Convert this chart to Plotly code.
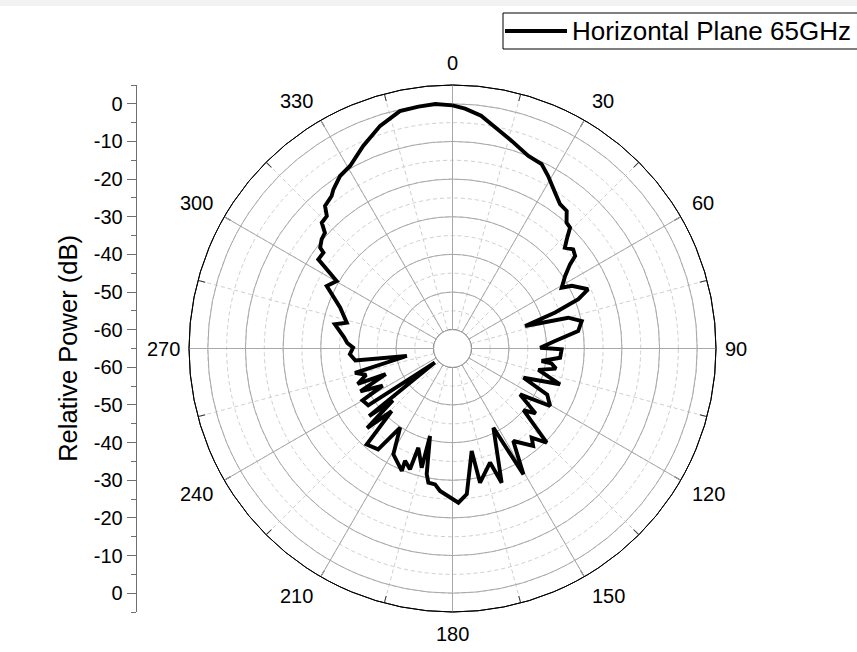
import math
import plotly.graph_objects as go

# ---------------- data ----------------
SERIES_NAME = "Horizontal Plane 65GHz"
ANGLES_DEG = [
    0, 3, 7, 11, 16, 21.5, 25.8, 29, 33.3, 36.7, 39.7, 42.2, 44.2, 46.3, 48.1, 50.6, 53,
    54.4, 57.2, 60.9, 62.3, 66.4, 68.6, 70.7, 72.8, 75.1, 78, 82.1, 85.8, 89.5, 90.4, 94.9,
    98, 98.6, 101, 104, 108.4, 112.4, 116, 120.5, 124.2, 128, 131, 135, 138.4, 140.4, 146.7,
    150.6, 152.7, 159.9, 161.8, 168.4, 169.4, 174.4, 177.8, 185, 187.3, 190.2, 191.6, 194.4,
    194.5, 199, 199.4, 202.9, 202.5, 209.2, 213.5, 216.4, 221.8, 224.2, 227, 229, 231,
    231.5, 236, 240, 242, 245, 249, 249.5, 253, 256, 260.7, 263, 266.8, 270.5, 273, 276,
    281.6, 283.7, 290.1, 296.4, 300.2, 303.6, 306.6, 307.3, 309.9, 312.2, 313.9, 316.5,
    318.2, 321.6, 323.2, 326.9, 330.7, 336.2, 342, 347.5, 352, 356, 360,
]
POWER_DB = [
    -0.4, -1.2, -2.7, -5.2, -7.7, -10.0, -10.6, -12.6, -15.4, -17.2, -17.5, -19.9, -20.2,
    -23.0, -24.9, -23.5, -24.2, -26.6, -29.4, -31.8, -29.2, -25.7, -29.1, -36.1, -44.8,
    -33.2, -29.9, -31.3, -37.7, -41.7, -36.0, -36.3, -41.1, -38.4, -37.0, -41.5, -34.9,
    -44.6, -37.0, -34.9, -43.3, -37.0, -40.0, -29.6, -33.3, -31.4, -35.6, -26.6, -41.3,
    -27.0, -33.1, -28.6, -37.3, -26.1, -24.0, -27.0, -28.6, -28.8, -30.9, -41.0, -32.3,
    -37.1, -31.0, -32.6, -29.8, -32.8, -39.8, -31.7, -30.8, -41.8, -34.0, -44.0, -36.5,
    -59.0, -38.0, -37.4, -44.0, -38.0, -46.0, -38.1, -41.0, -38.3, -52.7, -39.0, -37.7,
    -38.6, -37.0, -36.0, -33.1, -36.1, -33.2, -27.7, -29.4, -22.2, -22.3, -20.8, -19.7,
    -19.25, -16.8, -16.5, -14.2, -13.3, -12.2, -10.3, -9.4, -6.2, -2.8, -0.4, -0.1, 0.1,
    -0.4,
]
RADIAL_TICKS = [0, -10, -20, -30, -40, -50, -60]
RADIAL_MIN, RADIAL_MAX, RADIAL_CENTER = -60, 5, -65
ANGULAR_TICKS = [0, 30, 60, 90, 120, 150, 180, 210, 240, 270, 300, 330]

# ---------------- layout geometry ----------------
W, H = 857, 652
FONT = "Liberation Sans, Arial, sans-serif"
cx_px, cy_px, R_px = 452.5, 348.5, 263.5
dom_x = [(cx_px - R_px) / W, (cx_px + R_px) / W]
dom_y = [1 - (cy_px + R_px) / H, 1 - (cy_px - R_px) / H]
hole = (RADIAL_MIN - RADIAL_CENTER) / (RADIAL_MAX - RADIAL_CENTER)
span = RADIAL_MAX - RADIAL_CENTER
GRID_SOLID = "#a8a8a8"
GRID_DASH = "#cfcfcf"


def px(x):
    return x / W


def py(y):
    return 1 - y / H


fig = go.Figure()
# invisible helpers so that the background polar grid and the left scale get drawn
fig.add_trace(go.Scatterpolar(r=[RADIAL_MIN], theta=[0], mode="markers", subplot="polar",
                              marker=dict(opacity=0), showlegend=False, hoverinfo="skip"))
fig.add_trace(go.Scatter(x=[0.5], y=[0], mode="markers", marker=dict(opacity=0),
                         showlegend=False, hoverinfo="skip"))
fig.add_trace(go.Scatterpolar(
    r=POWER_DB, theta=ANGLES_DEG, mode="lines", name=SERIES_NAME,
    line=dict(color="black", width=3.9), subplot="polar2", showlegend=False,
))

radial_common = dict(range=[RADIAL_MIN, RADIAL_MAX], showticklabels=False, ticks="",
                     showline=False, tick0=0)
ang_common = dict(rotation=90, direction="clockwise")

fig.update_layout(
    width=W, height=H, margin=dict(l=0, r=0, t=0, b=0),
    paper_bgcolor="white", plot_bgcolor="rgba(0,0,0,0)",
    font=dict(family=FONT, color="black", size=20),
    polar=dict(
        domain=dict(x=dom_x, y=dom_y), hole=hole, bgcolor="white",
        radialaxis=dict(**radial_common, dtick=5, gridcolor=GRID_DASH, griddash="4px,3px",
                        gridwidth=1),
        angularaxis=dict(**ang_common, dtick=15, gridcolor=GRID_DASH, griddash="4px,3px",
                         showticklabels=False, ticks="inside", ticklen=7,
                         tickcolor="#333", showline=True, linecolor="black", linewidth=1),
    ),
    polar2=dict(
        domain=dict(x=dom_x, y=dom_y), hole=hole, bgcolor="rgba(0,0,0,0)",
        radialaxis=dict(**radial_common, dtick=10, gridcolor=GRID_SOLID, gridwidth=1),
        angularaxis=dict(**ang_common, tickmode="array", tickvals=ANGULAR_TICKS,
                         showticklabels=False, gridcolor=GRID_SOLID, gridwidth=1,
                         ticks="", showline=False),
    ),
)

# outer frame circle and inner hole circle
fig.add_shape(type="circle", xref="paper", yref="paper",
              x0=px(cx_px - R_px), x1=px(cx_px + R_px),
              y0=py(cy_px + R_px), y1=py(cy_px - R_px),
              line=dict(color="black", width=1), layer="above")
r_hole = R_px * hole
fig.add_shape(type="circle", xref="paper", yref="paper",
              x0=px(cx_px - r_hole), x1=px(cx_px + r_hole),
              y0=py(cy_px + r_hole), y1=py(cy_px - r_hole),
              line=dict(color=GRID_SOLID, width=1), fillcolor="white", layer="above")

# angular tick labels, placed just outside the frame
digit_w, cap_h = 11.1, 14.3
for a in ANGULAR_TICKS:
    t = str(a)
    s, c = math.sin(math.radians(a)), math.cos(math.radians(a))
    r_near = 278 - 6 * s ** 8
    x = cx_px + r_near * s
    y = cy_px - r_near * c
    w = digit_w * len(t)
    if abs(s) > 1e-6:
        x += math.copysign(w / 2, s)
    if abs(c) > 1e-6:
        y -= math.copysign(cap_h / 2, c)
    fig.add_annotation(xref="paper", yref="paper", x=px(x), y=py(y), text=t,
                       showarrow=False, xanchor="center", yanchor="middle",
                       font=dict(size=20, family=FONT, color="black"))

# mirrored radial scale on the left
tickvals, ticktext = [], []
for v in RADIAL_TICKS:
    u = v - RADIAL_CENTER
    tickvals += [u, -u]
    ticktext += [str(v), str(v)]
fig.update_layout(
    xaxis=dict(visible=False, domain=[0.9, 1.0], range=[0, 1]),
    yaxis=dict(
        domain=dom_y, range=[-span, span], anchor="free", position=135.7 / W,
        tickmode="array", tickvals=tickvals, ticktext=ticktext,
        ticks="outside", ticklen=9, tickcolor="#707070", tickwidth=1,
        showline=True, linecolor="#707070", linewidth=1, showgrid=False, zeroline=False,
        minor=dict(ticks="outside", ticklen=5, tickcolor="#707070", dtick=5, tick0=0,
                   showgrid=False),
        tickfont=dict(size=20, family=FONT, color="black"),
        title=dict(text="Relative Power (dB)", font=dict(size=25.5, family=FONT, color="black"),
                   standoff=7),
    ),
)

# faint band at the very top of the reference image
fig.add_shape(type="rect", xref="paper", yref="paper", x0=0, x1=1, y0=py(6), y1=1,
              line=dict(width=0), fillcolor="#f2f2f2", layer="below")

# legend box (drawn manually to match the long line sample)
fig.add_shape(type="rect", xref="paper", yref="paper", x0=px(503), x1=px(880),
              y0=py(49), y1=py(13), line=dict(color="black", width=1), fillcolor="white")
fig.add_shape(type="line", xref="paper", yref="paper", x0=px(505), x1=px(567),
              y0=py(31), y1=py(31), line=dict(color="black", width=3.9))
fig.add_annotation(xref="paper", yref="paper", x=px(570), y=py(31), xanchor="left",
                   yanchor="middle", showarrow=False, text=SERIES_NAME,
                   font=dict(size=26, family=FONT, color="black"))

fig.write_html("out.html", config={"displayModeBar": False},
               post_script="document.body.style.margin='0';")
